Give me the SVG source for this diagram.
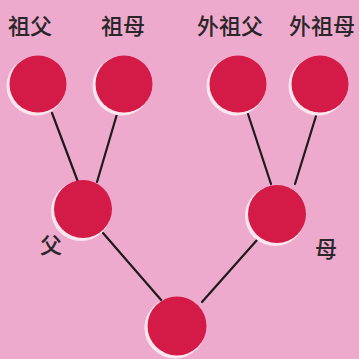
<svg xmlns="http://www.w3.org/2000/svg" width="359" height="359" viewBox="0 0 359 359">
<defs>
<style>
.bg{fill:#eeaacc}
.node .hl{fill:#fbe6f0}
.node .c{fill:#d41a47}
.lbl{font-family:"Noto Sans CJK SC","Noto Sans CJK JP",sans-serif;font-size:22px;font-weight:500;fill:#2a262a;text-anchor:middle}
.edges line{stroke:#1e1a1e;stroke-width:2.2;stroke-linecap:round}
</style>
</defs>
<rect class="bg" x="0" y="0" width="359" height="359"/>
<g class="edges" id="connectors">
<line x1="52" y1="113" x2="78" y2="182"/>
<line x1="117" y1="114" x2="97" y2="182"/>
<line x1="248" y1="114" x2="271" y2="184"/>
<line x1="316" y1="116" x2="295" y2="184"/>
<line x1="103" y1="233" x2="162" y2="301"/>
<line x1="257" y1="240" x2="202" y2="302"/>
</g>
<g class="node" id="n-zufu">
<circle class="hl" cx="36" cy="86" r="29.5"/>
<circle class="c" cx="38" cy="84" r="28.5"/>
<text class="lbl" x="30" y="34">祖父</text>
</g>
<g class="node" id="n-zumu">
<circle class="hl" cx="122" cy="86" r="29.5"/>
<circle class="c" cx="124" cy="84" r="28.5"/>
<text class="lbl" x="123" y="34">祖母</text>
</g>
<g class="node" id="n-waizufu">
<circle class="hl" cx="236" cy="86" r="29.5"/>
<circle class="c" cx="238" cy="84" r="28.5"/>
<text class="lbl" x="230" y="34">外祖父</text>
</g>
<g class="node" id="n-waizumu">
<circle class="hl" cx="318" cy="86" r="29.5"/>
<circle class="c" cx="320" cy="84" r="28.5"/>
<text class="lbl" x="322" y="34">外祖母</text>
</g>
<g class="node" id="n-fu">
<circle class="hl" cx="81" cy="211" r="30"/>
<circle class="c" cx="83" cy="209" r="29"/>
<text class="lbl" x="51" y="253">父</text>
</g>
<g class="node" id="n-mu">
<circle class="hl" cx="275" cy="216" r="30"/>
<circle class="c" cx="277" cy="214" r="29"/>
<text class="lbl" x="326" y="257">母</text>
</g>
<g class="node" id="n-child">
<circle class="hl" cx="175" cy="328" r="30.5"/>
<circle class="c" cx="177" cy="326" r="29.5"/>
</g>
</svg>
